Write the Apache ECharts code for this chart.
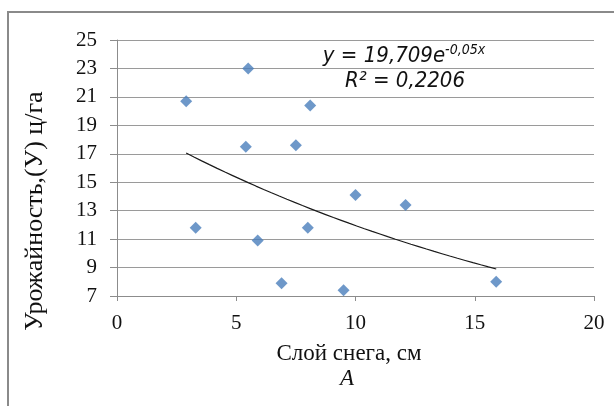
<!DOCTYPE html>
<html>
<head>
<meta charset="utf-8">
<script src="https://cdn.jsdelivr.net/npm/echarts@6/dist/echarts.min.js"></script>
<style>
  html, body { margin: 0; padding: 0; background: #fff; }
  #chart { width: 614px; height: 406px; }
</style>
</head>
<body>
<div id="chart"></div>
<script>
// Snow depth (cm) and yield (c/ha) observations
const snowDepth = [2.9, 5.5, 8.1, 5.4, 7.5, 10.0, 12.1, 3.3, 5.9, 8.0, 6.9, 9.5, 15.9];
const yieldVals = [20.7, 23.0, 20.4, 17.5, 17.6, 14.1, 13.4, 11.8, 10.9, 11.8, 7.9, 7.4, 8.0];

// Exponential trend y = a * e^(b x), as given in the equation label
const trendA = 19.709;
const trendB = -0.05;
const trendR2 = '0,2206';

const xTicks = [0, 5, 10, 15, 20];
const yTicks = [7, 9, 11, 13, 15, 17, 19, 21, 23, 25];

const points = snowDepth.map((x, i) => [x, yieldVals[i]]);

// Trend curve sampled across the observed x range
const xMin = Math.min(...snowDepth), xMax = Math.max(...snowDepth);
const trend = [];
for (let k = 0; k <= 40; k++) {
  const x = xMin + (xMax - xMin) * k / 40;
  trend.push([x, trendA * Math.exp(trendB * x)]);
}

const serif = '"Liberation Serif", "DejaVu Serif", serif';
const narrow = '"Liberation Sans Narrow", "DejaVu Sans Condensed", sans-serif';

const chart = echarts.init(document.getElementById('chart'), null, { renderer: 'canvas' });
chart.setOption({
  animation: false,
  grid: { left: 117, right: 20, top: 40, bottom: 110 },
  xAxis: {
    type: 'value',
    min: xTicks[0], max: xTicks[xTicks.length - 1], interval: 5,
    axisLine: { show: true, lineStyle: { color: '#8c8c8c', width: 1 } },
    axisTick: { show: true, inside: false, length: 5, lineStyle: { color: '#8c8c8c' } },
    splitLine: { show: false },
    axisLabel: { color: '#111', fontFamily: serif, fontSize: 21, margin: 17 }
  },
  yAxis: {
    type: 'value',
    min: yTicks[0], max: yTicks[yTicks.length - 1], interval: 2,
    axisLine: { show: true, lineStyle: { color: '#8c8c8c', width: 1 } },
    axisTick: { show: true, inside: false, length: 7, lineStyle: { color: '#8c8c8c' } },
    splitLine: { show: true, lineStyle: { color: '#9a9a9a', width: 1 } },
    axisLabel: { color: '#111', fontFamily: serif, fontSize: 21, margin: 20 }
  },
  series: [
    {
      type: 'line',
      data: trend,
      showSymbol: false,
      symbol: 'none',
      smooth: false,
      lineStyle: { color: '#1a1a1a', width: 1.2 },
      z: 2
    },
    {
      type: 'scatter',
      data: points,
      symbol: 'diamond',
      symbolSize: [12, 12],
      itemStyle: { color: '#4a7ebb' },
      z: 3
    }
  ],
  graphic: [
    {
      type: 'rect',
      shape: { x: 8, y: 12, width: 700, height: 500 },
      style: { fill: 'none', stroke: '#8a8a8a', lineWidth: 2 },
      silent: true
    },
    {
      type: 'text',
      x: 35, y: 211, rotation: Math.PI / 2,
      style: {
        text: 'Урожайность,(У) ц/га',
        fontFamily: serif, fontSize: 26, fill: '#111',
        align: 'center', verticalAlign: 'middle'
      }
    },
    {
      type: 'text',
      x: 349, y: 354,
      style: {
        text: 'Слой снега, см',
        fontFamily: serif, fontSize: 23, fill: '#111',
        align: 'center', verticalAlign: 'middle'
      }
    },
    {
      type: 'text',
      x: 347, y: 379,
      style: {
        text: 'A',
        fontFamily: serif, fontSize: 23, fontStyle: 'italic', fill: '#111',
        align: 'center', verticalAlign: 'middle'
      }
    },
    {
      type: 'text',
      x: 404, y: 55,
      style: {
        text: '{m|y = 19,709e}{s|-0,05x}',
        rich: {
          m: { fontFamily: narrow, fontStyle: 'italic', fontSize: 22, fill: '#111', verticalAlign: 'bottom' },
          s: { fontFamily: narrow, fontStyle: 'italic', fontSize: 14, fill: '#111', verticalAlign: 'top', padding: [0, 0, 10, 0] }
        },
        align: 'center', verticalAlign: 'middle'
      }
    },
    {
      type: 'text',
      x: 405, y: 81,
      style: {
        text: 'R² = ' + trendR2,
        fontFamily: narrow, fontStyle: 'italic', fontSize: 22, fill: '#111',
        align: 'center', verticalAlign: 'middle'
      }
    }
  ]
});
</script>
</body>
</html>
